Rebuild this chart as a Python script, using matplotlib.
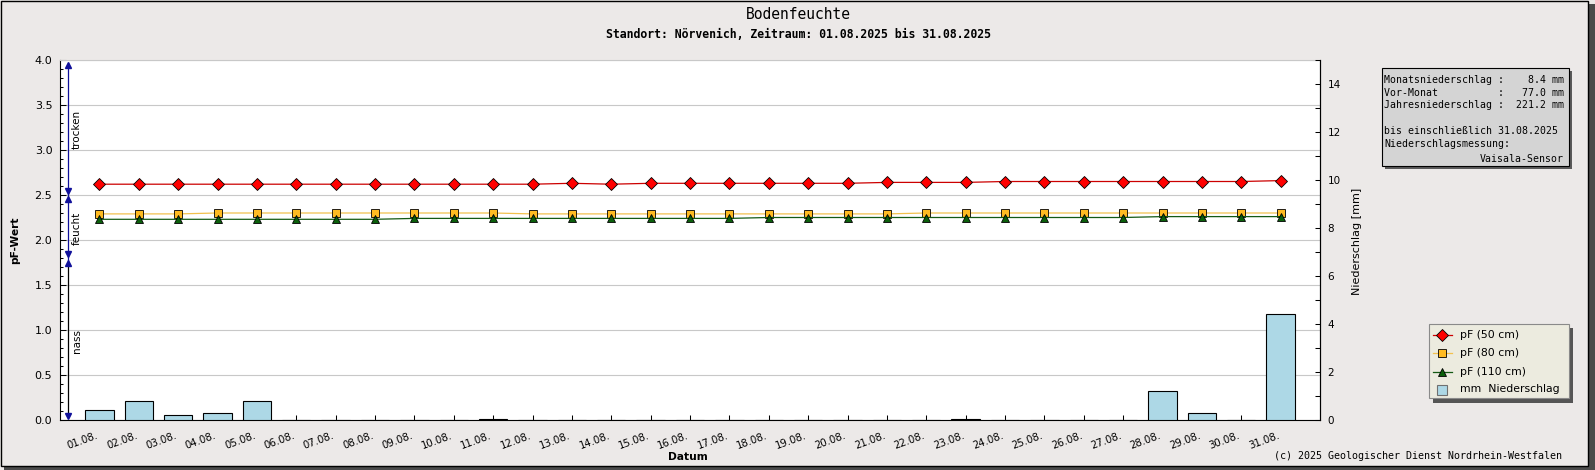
import matplotlib
matplotlib.use("Agg")
import matplotlib.pyplot as plt
from matplotlib.patches import Rectangle
from matplotlib.lines import Line2D
from matplotlib.ticker import MultipleLocator, FormatStrFormatter

W, H = 1595, 470

# ---------------- data ----------------
days = list(range(1, 32))
day_labels = [f"{d:02d}.08." for d in days]

pf_50 = [2.62, 2.62, 2.62, 2.62, 2.62, 2.62, 2.62, 2.62, 2.62, 2.62,
         2.62, 2.62, 2.63, 2.62, 2.63, 2.63, 2.63, 2.63, 2.63, 2.63,
         2.64, 2.64, 2.64, 2.65, 2.65, 2.65, 2.65, 2.65, 2.65, 2.65, 2.66]
pf_80 = [2.29, 2.29, 2.29, 2.30, 2.30, 2.30, 2.30, 2.30, 2.30, 2.30,
         2.30, 2.29, 2.29, 2.29, 2.29, 2.29, 2.29, 2.29, 2.29, 2.29,
         2.29, 2.30, 2.30, 2.30, 2.30, 2.30, 2.30, 2.30, 2.30, 2.30, 2.30]
pf_110 = [2.23, 2.23, 2.23, 2.23, 2.23, 2.23, 2.23, 2.23, 2.24, 2.24,
          2.24, 2.24, 2.24, 2.24, 2.24, 2.24, 2.24, 2.25, 2.25, 2.25,
          2.25, 2.25, 2.25, 2.25, 2.25, 2.25, 2.25, 2.26, 2.26, 2.26, 2.26]
rain_mm = [0.4, 0.8, 0.2, 0.3, 0.8, 0.0, 0.0, 0.0, 0.0, 0.0,
           0.04, 0.0, 0.0, 0.0, 0.0, 0.0, 0.0, 0.0, 0.0, 0.0,
           0.0, 0.0, 0.04, 0.0, 0.0, 0.0, 0.0, 1.2, 0.3, 0.0, 4.4]

zone_names = ["trocken", "feucht", "nass"]
zone_low = [2.5, 1.8, 0.0]
zone_high = [4.0, 2.5, 1.8]

series_names = ["pF (50 cm)", "pF (80 cm)", "pF (110 cm)"]
rain_name = "mm  Niederschlag"

title = "Bodenfeuchte"
subtitle = "Standort: Nörvenich, Zeitraum: 01.08.2025 bis 31.08.2025"
info_lines = ["Monatsniederschlag :    8.4 mm",
              "Vor-Monat          :   77.0 mm",
              "Jahresniederschlag :  221.2 mm",
              "bis einschließlich 31.08.2025",
              "Niederschlagsmessung:"]
info_right = "Vaisala-Sensor"
copyright_text = "(c) 2025 Geologischer Dienst Nordrhein-Westfalen"

# ---------------- styles ----------------
BG = "#ECE9E8"
GRID = "#C8C8C8"
MONO = "DejaVu Sans Mono"
SANS = "DejaVu Sans"
s50 = dict(color="#CC0000", lw=0.9, marker="D", ms=6.2, mfc="#FF0000", mec="black", mew=0.6)
s80 = dict(color="#F2C14E", lw=0.9, marker="s", ms=5.8, mfc="#FFBB22", mec="black", mew=0.6)
s110 = dict(color="#145A14", lw=0.9, marker="^", ms=6.4, mfc="#0B600B", mec="black", mew=0.6)
styles = [s50, s80, s110]
BAR_C = "#ADD8E6"


def fx(px):
    return px / W


def fy(py):
    return 1 - py / H


fig = plt.figure(figsize=(W / 100, H / 100), dpi=100, facecolor=BG)


def prect(x0, y0, x1, y1, **kw):
    r = Rectangle((fx(x0), fy(y1)), fx(x1) - fx(x0), fy(y0) - fy(y1),
                  transform=fig.transFigure, **kw)
    fig.add_artist(r)
    return r


# figure frame with shadow
prect(4, 466, 1595, 470, facecolor="#4A4A4A", edgecolor="none", zorder=0)
prect(1588, 4, 1595, 470, facecolor="#4A4A4A", edgecolor="none", zorder=0)
prect(0.5, 0.5, 1588, 466, facecolor="none", edgecolor="black", lw=1.0, zorder=0)

L, R, T, B = 60, 1320, 60, 420
rect = [fx(L), fy(B), fx(R) - fx(L), fy(T) - fy(B)]

ax = fig.add_axes(rect)
ax.set_facecolor("white")
ax.set_xlim(0, 32)
ax.set_ylim(0, 4)
ax.yaxis.set_major_locator(MultipleLocator(0.5))
ax.yaxis.set_minor_locator(MultipleLocator(0.1))
ax.yaxis.set_major_formatter(FormatStrFormatter("%.1f"))
ax.yaxis.grid(True, color=GRID, lw=0.8)
ax.set_axisbelow(True)
ax.set_xticks(days)
ax.set_xticklabels(day_labels, rotation=20, ha="right", fontsize=7.3, family=SANS)
ax.tick_params(axis="x", direction="in", length=3.6, width=0.75, pad=7.5, colors="black")
ax.tick_params(axis="y", which="major", direction="in", length=4.0, width=0.75,
               labelsize=8, pad=5.5)
ax.tick_params(axis="y", which="minor", direction="in", length=2.3, width=0.75)
for s in ["left", "bottom", "right"]:
    ax.spines[s].set_color("black")
    ax.spines[s].set_linewidth(0.8)
ax.spines["top"].set_color(GRID)
ax.spines["top"].set_linewidth(0.8)

# rain axis (right)
ax_r = ax.twinx()
ax_r.set_ylim(0, 15)
ax_r.bar(days, rain_mm, width=0.72, color=BAR_C, edgecolor="black", linewidth=0.8, zorder=2)
ax_r.yaxis.set_major_locator(MultipleLocator(2))
ax_r.yaxis.set_minor_locator(MultipleLocator(1))
ax_r.tick_params(axis="y", which="both", direction="in", length=3.6, width=0.75,
                 labelsize=7.5, pad=5.5)
for s in ["left", "bottom", "top"]:
    ax_r.spines[s].set_visible(False)
ax_r.spines["right"].set_color("black")
ax_r.spines["right"].set_linewidth(0.8)

# top layer for pF lines and zone arrows
ax_t = fig.add_axes(rect, sharex=ax, sharey=ax)
ax_t.set_zorder(ax_r.get_zorder() + 1)
ax_t.patch.set_visible(False)
ax_t.axis("off")

for vals, st in zip([pf_50, pf_80, pf_110], styles):
    ax_t.plot(days, vals, **st, clip_on=False)

# zone arrows
XZ = 0.21
ARROW = "#10109A"
for name, lo, hi in zip(zone_names, zone_low, zone_high):
    if lo == 0.0:
        ax_t.plot([XZ, XZ], [lo + 0.05, hi - 0.05], color="black", lw=0.9)
    else:
        ax_t.plot([XZ, XZ], [lo - 0.05, hi - 0.03], color=ARROW, lw=0.9)
    ax_t.plot([XZ], [hi - 0.05], marker="^", ms=5.0, color=ARROW, mec=ARROW, clip_on=False)
    ax_t.plot([XZ], [lo + 0.05], marker="v", ms=5.0, color=ARROW, mec=ARROW, clip_on=False)
    ax_t.text(0.43, (lo + hi) / 2 - 0.02, name, rotation=90, ha="center", va="center",
              fontsize=7.5, family=SANS)

# titles
fig.text(fx(798), fy(14.3), title, ha="center", va="center", family=MONO, fontsize=10.5)
fig.text(fx(798), fy(34), subtitle, ha="center", va="center", family=MONO,
         fontsize=8.3, weight="bold")

# axis labels
fig.text(fx(15), fy(240), "pF-Wert", rotation=90, ha="center", va="center",
         family=SANS, weight="bold", fontsize=7.7)
fig.text(fx(1356.5), fy(241), "Niederschlag [mm]", rotation=90, ha="center", va="center",
         family=SANS, fontsize=8)
fig.text(fx(688), fy(457), "Datum", ha="center", va="center", family=SANS,
         weight="bold", fontsize=7.7)

# info box
prect(1384.5, 71, 1572, 168.5, facecolor="#5A5A5A", edgecolor="none", zorder=3)
prect(1381.7, 68.3, 1569, 165.7, facecolor="#D4D4D4", edgecolor="black", lw=0.8, zorder=4)
info_y = [80, 92.7, 105, 131, 144.3]
for txt, yy in zip(info_lines, info_y):
    fig.text(fx(1384.3), fy(yy), txt, ha="left", va="center", family=MONO,
             fontsize=7.15, zorder=5)
fig.text(fx(1564), fy(158.5), info_right, ha="right", va="center", family=MONO,
         fontsize=7.15, zorder=5)

# legend (manual)
prect(1433, 328, 1573, 402.5, facecolor="#555555", edgecolor="none", zorder=3)
prect(1429, 324, 1569, 398, facecolor="#ECEBDF", edgecolor="#8A8A8A", lw=0.8, zorder=4)
row_y = [335, 353.3, 371.7, 389.3]
for name, st, yy in zip(series_names, styles, row_y):
    ln = Line2D([fx(1433), fx(1442), fx(1452)], [fy(yy)] * 3, transform=fig.transFigure,
                markevery=[1], zorder=5, **st)
    fig.add_artist(ln)
    fig.text(fx(1460), fy(yy), name, ha="left", va="center", family=SANS,
             fontsize=7.8, zorder=5)
prect(1437.3, 384.5, 1447.3, 394.5, facecolor=BAR_C, edgecolor="#707070", lw=0.8, zorder=5)
fig.text(fx(1460), fy(row_y[3]), rain_name, ha="left", va="center", family=SANS,
         fontsize=7.8, zorder=5)

# copyright
fig.text(fx(1562), fy(456), copyright_text, ha="right", va="center", family=MONO,
         fontsize=7.2)

fig.savefig("out.png", dpi=100, facecolor=BG)
